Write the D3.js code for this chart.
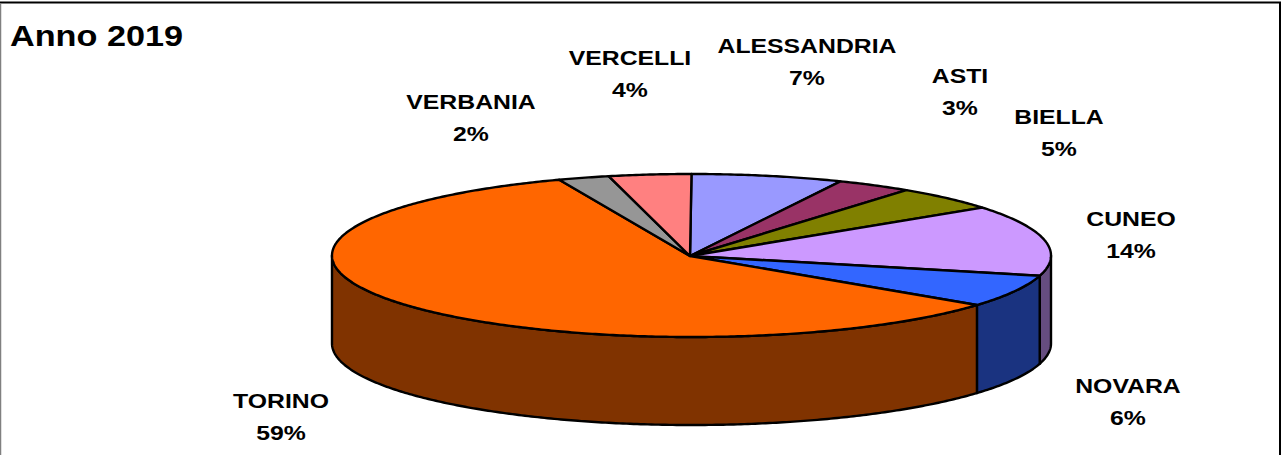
<!DOCTYPE html>
<html><head><meta charset="utf-8">
<script src="https://cdn.jsdelivr.net/npm/d3@7/dist/d3.min.js"></script>
<style>html,body{margin:0;padding:0;background:#fff;overflow:hidden}svg{display:block}text{font-family:"Liberation Sans",Arial,sans-serif;font-weight:bold;fill:#000}</style>
</head><body><svg id="c" width="1281" height="455"></svg>
<script>
const title = "Anno 2019";
const categories = ["ALESSANDRIA","ASTI","BIELLA","CUNEO","NOVARA","TORINO","VERBANIA","VERCELLI"];
const values = [6.8,3.4,4.8,14.0,6.4,58.6,2.3,3.7];
const topColors = ["#9999ff","#993366","#808000","#cc99ff","#3366ff","#ff6600","#969696","#ff8080"];
const sideColors = ["#4d4d80","#4d1a33","#404000","#664d80","#1a3380","#803300","#4b4b4b","#804040"];
const labelCx = [807,960,1059,1131,1128,281,471,630];
const labelY = [53,83,124,226,393,408,109,65];

const W=1281,H=455,cx=691.5,cy=255.5,rx=359.5,ry=81.5,depth=88,apexX=690,apexY=256,stretch=1.18;
const svg=d3.select("#c");
const total=d3.sum(values);
const arcs=d3.pie().sort(null).value(d=>d)(values);
const px=d3.scaleLinear().domain([-1,1]).range([cx-rx,cx+rx]);
const py=d3.scaleLinear().domain([-1,1]).range([cy+ry,cy-ry]); // +1 = back (top of the screen)
const pt=(a,dy=0)=>[px(Math.sin(a)),py(Math.cos(a))+dy];
const samples=(a0,a1)=>{const n=Math.max(2,Math.ceil((a1-a0)/0.01));return d3.range(n+1).map(i=>a0+(a1-a0)*i/n);};
const line=d3.line();
const style=(s,fill)=>s.attr("fill",fill).attr("stroke","#000").attr("stroke-width",2.4).attr("stroke-linejoin","round");

svg.append("rect").attr("x",0).attr("y",0).attr("width",W).attr("height",H).attr("fill","#fff");
svg.append("line").attr("x1",0).attr("x2",W).attr("y1",2.5).attr("y2",2.5).attr("stroke","#000").attr("stroke-width",2);
svg.append("line").attr("x1",.5).attr("x2",.5).attr("y1",3).attr("y2",H).attr("stroke","#808080").attr("stroke-width",1.5);
svg.append("line").attr("x1",1280).attr("x2",1280).attr("y1",2).attr("y2",H).attr("stroke","#000").attr("stroke-width",2);

// front wall
const lo=Math.PI/2,hi=3*Math.PI/2;
arcs.forEach((d,i)=>{
  const a0=Math.max(d.startAngle,lo),a1=Math.min(d.endAngle,hi);
  if(a1<=a0)return;
  const s=samples(a0,a1);
  const pts=s.map(a=>pt(a)).concat(s.slice().reverse().map(a=>pt(a,depth)));
  style(svg.append("path").attr("d",line(pts)+"Z"),sideColors[i]);
});
// top face
arcs.forEach((d,i)=>{
  const pts=[[apexX,apexY]].concat(samples(d.startAngle,d.endAngle).map(a=>pt(a)));
  style(svg.append("path").attr("d",line(pts)+"Z"),topColors[i]);
});
// labels
svg.append("text").attr("x",10).attr("y",46).attr("font-size",30).attr("textLength",173).attr("lengthAdjust","spacingAndGlyphs").text(title);
const stretched=(str,x,y)=>{
  const t=svg.append("text").attr("text-anchor","middle").attr("x",x).attr("y",y).attr("font-size",21).text(str);
  t.attr("textLength",t.node().getComputedTextLength()*stretch).attr("lengthAdjust","spacingAndGlyphs");
};
categories.forEach((c,i)=>{
  stretched(c,labelCx[i],labelY[i]);
  stretched(d3.format(".0f")(values[i]/total*100)+"%",labelCx[i],labelY[i]+32);
});
</script></body></html>
